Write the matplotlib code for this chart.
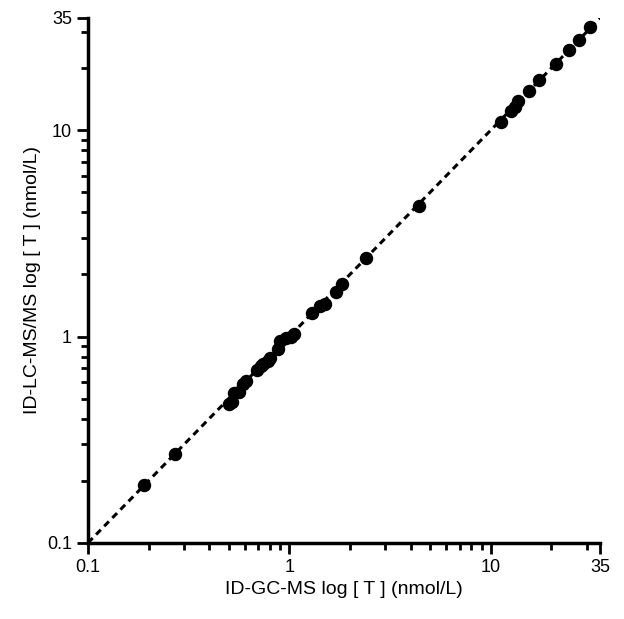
import matplotlib
matplotlib.use("Agg")
import matplotlib.pyplot as plt
from matplotlib.ticker import FixedLocator, LogLocator, NullFormatter

gc = [0.19, 0.27, 0.50, 0.52, 0.53, 0.56, 0.59, 0.61, 0.69, 0.72, 0.74, 0.78, 0.80,
      0.88, 0.90, 0.96, 1.02, 1.06, 1.30, 1.42, 1.50, 1.70, 1.82, 2.40, 4.40,
      11.3, 12.6, 13.2, 13.6, 15.5, 17.3, 21.2, 24.6, 27.5, 31.0]
lc = [0.19, 0.27, 0.47, 0.48, 0.53, 0.54, 0.59, 0.61, 0.69, 0.72, 0.74, 0.76, 0.79,
      0.87, 0.95, 0.98, 1.00, 1.03, 1.30, 1.40, 1.43, 1.65, 1.80, 2.40, 4.30,
      11.0, 12.4, 13.0, 13.8, 15.5, 17.5, 21.0, 24.5, 27.5, 31.5]
ticks = [0.1, 1, 10, 35]
tick_labels = ["0.1", "1", "10", "35"]

fig = plt.figure(figsize=(6.24, 6.19), dpi=100)
ax = fig.add_axes([0.141, 0.123, 0.821, 0.848])
ax.plot([0.1, 35], [0.1, 35], "k--", lw=2.2, dashes=(2.2, 1.6))
ax.scatter(gc, lc, s=75, c="k", zorder=3)
ax.set_xscale("log")
ax.set_yscale("log")
ax.set_xlim(0.1, 35)
ax.set_ylim(0.1, 35)
for a in (ax.xaxis, ax.yaxis):
    a.set_major_locator(FixedLocator(ticks))
    a.set_minor_locator(LogLocator(subs=range(2, 10)))
    a.set_minor_formatter(NullFormatter())
ax.set_xticklabels(tick_labels)
ax.set_yticklabels(tick_labels)
for s in ["top", "right"]:
    ax.spines[s].set_visible(False)
for s in ["left", "bottom"]:
    ax.spines[s].set_linewidth(2.5)
ax.tick_params(which="major", length=8, width=2, labelsize=13)
ax.tick_params(which="minor", length=5, width=2)
ax.set_xlabel("ID-GC-MS log [ T ] (nmol/L)", fontsize=14, family="Liberation Sans")
ax.set_ylabel("ID-LC-MS/MS log [ T ] (nmol/L)", fontsize=14, family="Liberation Sans")
for t in ax.get_xticklabels() + ax.get_yticklabels():
    t.set_family("Liberation Sans")
fig.savefig("out.png", dpi=100)
